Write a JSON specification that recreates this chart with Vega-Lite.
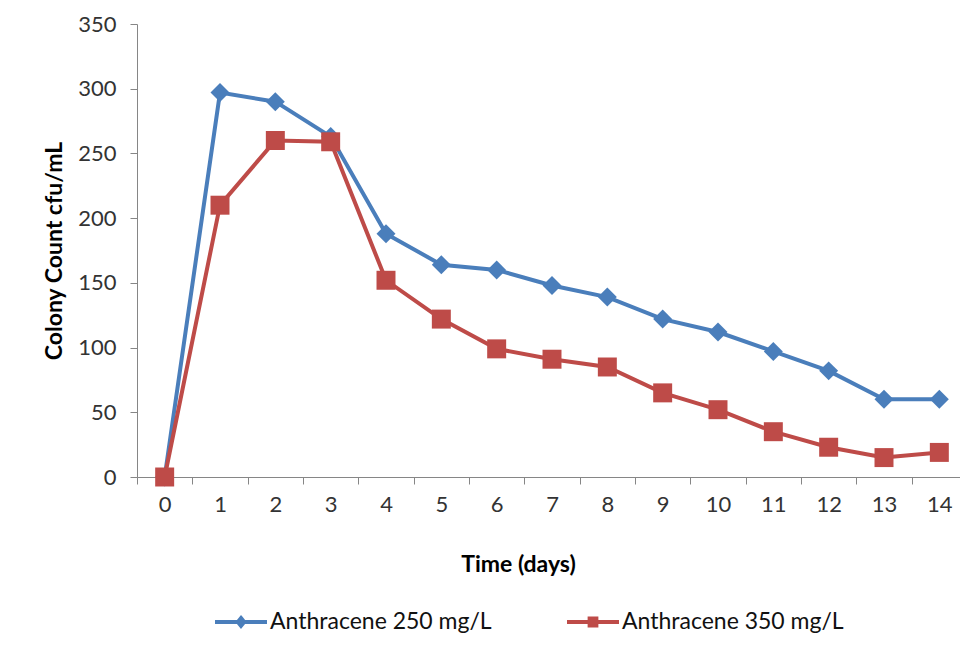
{
  "$schema": "https://vega.github.io/schema/vega-lite/v6.json",
  "autosize": {"type": "none"},
  "width": 823,
  "height": 453,
  "padding": {"left": 137, "top": 24, "right": 0, "bottom": 185},
  "background": "white",
  "data": {
    "values": [
      {"day": 0, "count": 0, "series": "Anthracene 250 mg/L"},
      {"day": 1, "count": 297, "series": "Anthracene 250 mg/L"},
      {"day": 2, "count": 290, "series": "Anthracene 250 mg/L"},
      {"day": 3, "count": 263, "series": "Anthracene 250 mg/L"},
      {"day": 4, "count": 188, "series": "Anthracene 250 mg/L"},
      {"day": 5, "count": 164, "series": "Anthracene 250 mg/L"},
      {"day": 6, "count": 160, "series": "Anthracene 250 mg/L"},
      {"day": 7, "count": 148, "series": "Anthracene 250 mg/L"},
      {"day": 8, "count": 139, "series": "Anthracene 250 mg/L"},
      {"day": 9, "count": 122, "series": "Anthracene 250 mg/L"},
      {"day": 10, "count": 112, "series": "Anthracene 250 mg/L"},
      {"day": 11, "count": 97, "series": "Anthracene 250 mg/L"},
      {"day": 12, "count": 82, "series": "Anthracene 250 mg/L"},
      {"day": 13, "count": 60, "series": "Anthracene 250 mg/L"},
      {"day": 14, "count": 60, "series": "Anthracene 250 mg/L"},
      {"day": 0, "count": 0, "series": "Anthracene 350 mg/L"},
      {"day": 1, "count": 210, "series": "Anthracene 350 mg/L"},
      {"day": 2, "count": 260, "series": "Anthracene 350 mg/L"},
      {"day": 3, "count": 259, "series": "Anthracene 350 mg/L"},
      {"day": 4, "count": 152, "series": "Anthracene 350 mg/L"},
      {"day": 5, "count": 122, "series": "Anthracene 350 mg/L"},
      {"day": 6, "count": 99, "series": "Anthracene 350 mg/L"},
      {"day": 7, "count": 91, "series": "Anthracene 350 mg/L"},
      {"day": 8, "count": 85, "series": "Anthracene 350 mg/L"},
      {"day": 9, "count": 65, "series": "Anthracene 350 mg/L"},
      {"day": 10, "count": 52, "series": "Anthracene 350 mg/L"},
      {"day": 11, "count": 35, "series": "Anthracene 350 mg/L"},
      {"day": 12, "count": 23, "series": "Anthracene 350 mg/L"},
      {"day": 13, "count": 15, "series": "Anthracene 350 mg/L"},
      {"day": 14, "count": 19, "series": "Anthracene 350 mg/L"}
    ]
  },
  "encoding": {
    "x": {
      "field": "day",
      "type": "ordinal",
      "bandPosition": 0.5,
      "scale": {"type": "band", "range": [0, 830], "paddingInner": 0, "paddingOuter": 0},
      "axis": {
        "title": "Time (days)",
        "labelAngle": 0,
        "tickBand": "extent",
        "labelPadding": 10,
        "titlePadding": 38,
        "titleX": 381
      }
    },
    "y": {
      "field": "count",
      "type": "quantitative",
      "scale": {"domain": [0, 350], "nice": false, "zero": true},
      "axis": {
        "title": "Colony Count cfu/mL",
        "values": [0, 50, 100, 150, 200, 250, 300, 350],
        "labelPadding": 14,
        "titlePadding": 11
      }
    },
    "color": {
      "field": "series",
      "type": "nominal",
      "scale": {"domain": ["Anthracene 250 mg/L", "Anthracene 350 mg/L"], "range": ["#4A7EBB", "#BE4B48"]},
      "legend": {
        "title": null,
        "orient": "none",
        "direction": "horizontal",
        "legendX": 76,
        "legendY": 570,
        "columnPadding": 67,
        "labelOffset": 1,
        "labelFont": "Lato",
        "labelFontSize": 23,
        "labelColor": "#111111",
        "labelLimit": 400,
        "symbolSize": 2704,
        "encode": {
          "symbols": {
            "update": {
              "shape": {"signal": "datum.value == 'Anthracene 250 mg/L' ? 'M-1,0H1M0,-0.15L0.12,0L0,0.15L-0.12,0Z' : 'M-1,0H1M-0.13,-0.13H0.13V0.13H-0.13Z'"},
              "fill": {"scale": "color", "field": "value"},
              "stroke": {"scale": "color", "field": "value"},
              "strokeWidth": {"value": 4},
              "opacity": {"value": 1},
              "size": {"value": 2704}
            }
          }
        }
      }
    }
  },
  "layer": [
    {
      "mark": {"type": "line", "strokeWidth": 4}
    },
    {
      "transform": [{"filter": "datum.series == 'Anthracene 250 mg/L'"}],
      "mark": {"type": "point", "filled": true, "size": 360, "opacity": 1, "shape": "diamond"}
    },
    {
      "transform": [{"filter": "datum.series == 'Anthracene 350 mg/L'"}],
      "mark": {"type": "point", "filled": true, "size": 360, "opacity": 1, "shape": "square"}
    }
  ],
  "config": {
    "font": "Lato",
    "view": {"stroke": null},
    "axis": {
      "grid": false,
      "domainColor": "#868686",
      "domainWidth": 1,
      "tickColor": "#868686",
      "tickWidth": 1,
      "tickSize": 7,
      "labelFont": "Lato",
      "labelFontSize": 22,
      "labelColor": "#333333",
      "titleFont": "Lato",
      "titleFontSize": 23,
      "titleFontWeight": "bold",
      "titleColor": "#000000"
    }
  }
}
